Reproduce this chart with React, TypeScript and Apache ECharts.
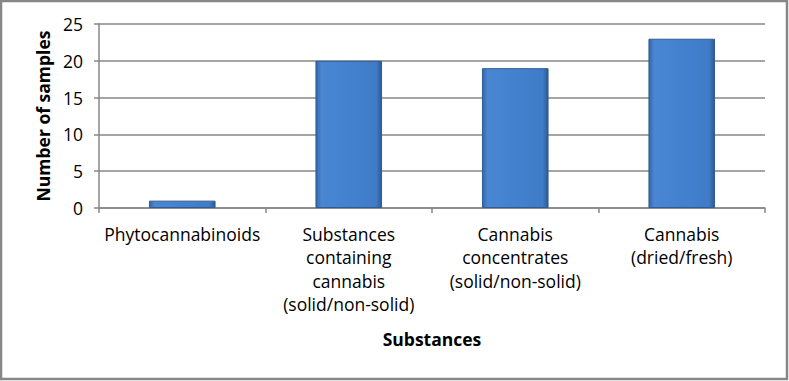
import React, { useEffect, useRef } from "react";
import * as echarts from "echarts";

const categories = [
  "Phytocannabinoids",
  "Substances\ncontaining\ncannabis\n(solid/non-solid)",
  "Cannabis\nconcentrates\n(solid/non-solid)",
  "Cannabis\n(dried/fresh)",
];
const sampleCounts = [1, 20, 19, 23];
const yAxisName = "Number of samples";
const xAxisName = "Substances";

const FONT = "'Open Sans', 'Noto Sans', sans-serif";
const GRAY = "#878787";

export default function App() {
  const ref = useRef<HTMLDivElement>(null);
  useEffect(() => {
    document.body.style.margin = "0";
    if (!ref.current) return;
    const chart = echarts.init(ref.current, undefined, { renderer: "svg" });
    chart.setOption({
      animation: false,
      backgroundColor: "#ffffff",
      grid: { left: 99, right: 24, top: 24, bottom: 173, containLabel: false },
      graphic: [
        {
          type: "rect",
          shape: { x: 1, y: 1, width: 786, height: 378 },
          style: { fill: "none", stroke: GRAY, lineWidth: 2.5 },
          silent: true,
        },
      ],
      xAxis: {
        type: "category",
        data: categories,
        name: xAxisName,
        nameLocation: "middle",
        nameGap: 122,
        nameTextStyle: { fontFamily: FONT, fontSize: 17.5, fontWeight: "bold", color: "#000" },
        axisLine: { show: true, lineStyle: { color: GRAY, width: 1.5 } },
        axisTick: { show: true, alignWithLabel: false, length: 5, lineStyle: { color: GRAY, width: 1.5 } },
        axisLabel: {
          interval: 0,
          margin: 14,
          fontFamily: FONT,
          fontSize: 17.5,
          lineHeight: 23.5,
          color: "#000",
          align: "center",
        },
      },
      yAxis: {
        type: "value",
        min: 0,
        max: 25,
        interval: 5,
        name: yAxisName,
        nameLocation: "middle",
        nameGap: 47,
        nameTextStyle: { fontFamily: FONT, fontSize: 17.5, fontWeight: "bold", color: "#000" },
        axisLine: { show: true, lineStyle: { color: GRAY, width: 1.5 } },
        axisTick: { show: true, length: 5, lineStyle: { color: GRAY, width: 1.5 } },
        splitLine: { show: true, lineStyle: { color: GRAY, width: 1.5 } },
        axisLabel: { margin: 16, fontFamily: FONT, fontSize: 17.5, color: "#000" },
      },
      series: [
        {
          type: "bar",
          data: sampleCounts,
          barWidth: "40%",
          itemStyle: {
            color: new echarts.graphic.LinearGradient(0, 0, 1, 0, [
              { offset: 0, color: "#3566a8" },
              { offset: 0.08, color: "#4a86d2" },
              { offset: 0.5, color: "#4381cf" },
              { offset: 0.92, color: "#3f7bc6" },
              { offset: 1, color: "#2c5a92" },
            ]),
            borderColor: "#2f5c94",
            borderWidth: 1,
          },
        },
      ],
    });
    return () => chart.dispose();
  }, []);
  return (
    <div
      ref={ref}
      style={{ position: "absolute", left: 0, top: 0, width: 789, height: 381 }}
    />
  );
}
